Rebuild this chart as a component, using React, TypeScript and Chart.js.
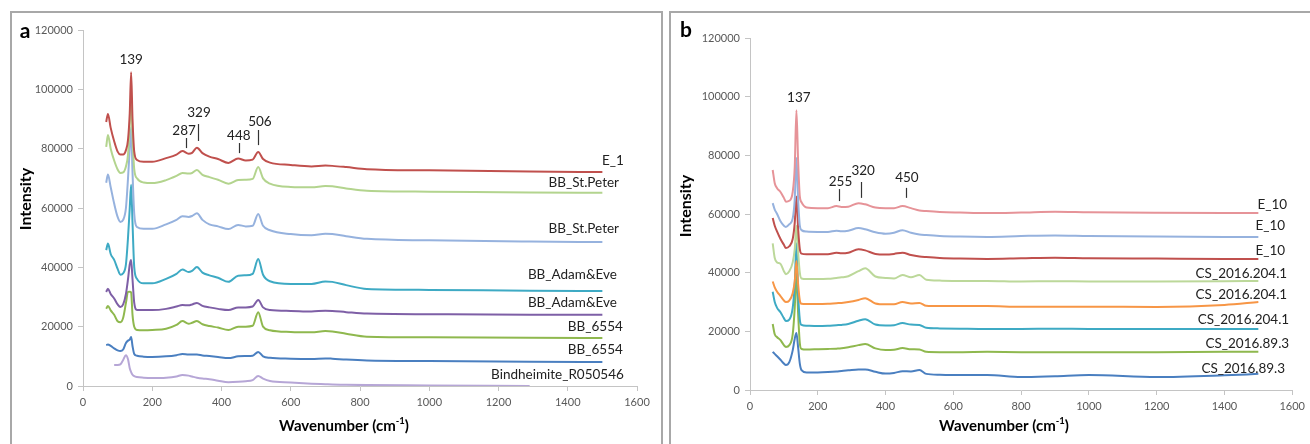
import React, { useEffect, useRef } from 'react';
import { Chart, registerables } from 'chart.js';

Chart.register(...registerables);

// ---------- Panel a data ----------
const wavenumbersA = [67, 72, 80, 90, 100, 108, 116, 124, 130, 135, 139, 143, 148, 156, 175, 200, 240, 270, 287, 305, 315, 329, 345, 365, 390, 420, 448, 470, 490, 506, 520, 540, 600, 660, 700, 720, 760, 820, 1000, 1290, 1500];
const e1A = [89000, 91700, 87000, 82500, 79000, 78000, 78000, 79500, 83000, 92000, 105800, 90000, 79000, 76200, 75600, 75600, 76800, 78000, 79200, 78300, 78600, 80300, 78500, 77300, 76500, 75200, 76700, 76000, 76300, 78900, 76500, 75300, 74500, 74000, 74300, 74200, 73800, 73100, 72700, 72300, 72100];
const stPeter1A = [80600, 84600, 80000, 76000, 73000, 71800, 72000, 74000, 78000, 88000, 97400, 84000, 73000, 70000, 68600, 68400, 69400, 70800, 71800, 71600, 71800, 72800, 71200, 70400, 69500, 68200, 69400, 69500, 69800, 73800, 70000, 68200, 67100, 67000, 67400, 67300, 66600, 65800, 65500, 65200, 65100];
const stPeter2A = [68500, 71300, 67000, 61500, 57000, 55300, 56000, 60000, 70000, 80000, 87300, 72000, 58000, 53600, 53000, 53000, 54500, 56000, 57200, 57000, 57300, 58200, 56000, 54500, 53800, 52900, 54300, 53800, 54000, 58000, 54000, 52500, 51200, 50800, 51300, 51200, 50500, 49600, 49100, 48700, 48500];
const adamEve1A = [45800, 48000, 44500, 42500, 39500, 37500, 38000, 41000, 50000, 60000, 67800, 55000, 40000, 36100, 34600, 34600, 36100, 37800, 39300, 38400, 38800, 40100, 38200, 37300, 36500, 35100, 37200, 37300, 37800, 42800, 37500, 35300, 34400, 34400, 35200, 35100, 34000, 32700, 32400, 32100, 32000];
const adamEve2A = [31700, 32800, 31000, 29500, 27500, 26600, 27500, 31000, 36000, 41000, 42500, 36000, 28000, 25600, 25600, 25600, 26000, 26800, 27300, 27200, 27500, 28000, 27000, 26500, 26000, 25600, 26500, 26500, 26800, 29000, 26500, 25600, 25300, 25100, 25400, 25300, 24900, 24400, 24200, 24050, 24000];
const bb6554aA = [26000, 27000, 25500, 24000, 21800, 21500, 23000, 28000, 31700, 31800, 31500, 24000, 20000, 18900, 18800, 18900, 19300, 20600, 21900, 21000, 21300, 21900, 20800, 20200, 19700, 18900, 20000, 20000, 20300, 24900, 20000, 18800, 18200, 18100, 18500, 18400, 17600, 16600, 16400, 16250, 16200];
const bb6554bA = [13800, 14000, 13500, 12700, 12000, 11800, 12300, 14500, 15300, 15600, 16500, 13500, 10800, 10200, 9900, 9800, 10000, 10400, 10800, 10600, 10600, 10600, 10300, 10100, 9800, 9400, 10000, 10100, 10200, 11500, 10000, 9500, 9200, 9100, 9300, 9200, 8900, 8600, 8400, 8200, 8100];
const bindheimiteA = [null, null, null, 7100, 7100, 7300, 8800, 10400, 9000, 6000, 4700, 3800, 3300, 3000, 2800, 2700, 2800, 3200, 3700, 3500, 3200, 2800, 2500, 2300, 1800, 1300, 1400, 1600, 2000, 3400, 2500, 1700, 1200, 800, 600, 500, 400, 300, 200, 0, null];
const seriesNamesA = ['E_1', 'BB_St.Peter', 'BB_St.Peter', 'BB_Adam&Eve', 'BB_Adam&Eve', 'BB_6554', 'BB_6554', 'Bindheimite_R050546'];
const seriesValuesA = [e1A, stPeter1A, stPeter2A, adamEve1A, adamEve2A, bb6554aA, bb6554bA, bindheimiteA];
const peakLabelsA = ['139', '287', '329', '448', '506'];

// ---------- Panel b data ----------
const wavenumbersB = [67, 73, 80, 90, 100, 106, 116, 126, 132, 137, 142, 147, 152, 167, 200, 230, 255, 270, 290, 320, 340, 370, 400, 425, 450, 475, 500, 520, 560, 620, 700, 800, 900, 1000, 1200, 1400, 1500];
const e10aB = [75000, 70500, 68800, 67500, 65500, 64200, 64500, 67500, 76000, 95400, 78000, 66000, 64000, 62200, 62000, 62000, 62700, 62400, 62500, 63700, 63300, 62200, 62000, 62000, 62700, 62000, 61200, 61000, 60700, 60500, 60300, 60500, 60800, 60600, 60400, 60300, 60300];
const e10bB = [63700, 61500, 60000, 57500, 56000, 55600, 56500, 58500, 65000, 79100, 65000, 56000, 54500, 54000, 53900, 53900, 54300, 54100, 54300, 55200, 54800, 53800, 53300, 53600, 54500, 53600, 53000, 52800, 52500, 52300, 52200, 52500, 52700, 52500, 52300, 52200, 52200];
const e10cB = [58600, 56000, 54000, 51500, 49500, 48400, 49000, 51500, 57000, 66000, 55000, 48000, 46500, 46300, 46300, 46300, 46800, 46600, 46800, 48000, 47600, 46400, 46200, 46400, 46800, 46000, 45500, 45300, 45000, 44800, 44700, 44900, 45100, 44900, 44800, 44700, 44700];
const cs204aB = [50000, 45000, 43500, 43000, 40500, 39500, 40500, 43500, 48000, 56000, 47000, 40000, 38000, 37800, 37800, 37900, 38200, 38400, 38800, 40500, 41500, 38700, 38200, 38000, 39200, 38400, 39200, 37600, 37300, 37200, 37200, 37000, 37100, 37000, 37000, 37100, 37200];
const cs204bB = [37000, 35000, 33500, 32000, 30500, 30000, 30500, 33000, 37000, 44000, 36000, 30500, 29400, 29300, 29300, 29400, 29600, 29700, 30000, 30700, 31300, 29500, 29200, 29200, 30000, 29500, 29700, 28700, 28600, 28600, 28600, 28400, 28400, 28400, 28300, 29000, 30000];
const cs204cB = [33500, 30000, 28000, 26500, 24500, 23500, 24000, 28000, 36000, 50000, 33000, 24000, 22200, 21900, 21800, 21900, 22100, 22200, 22500, 23600, 24100, 22300, 22000, 22100, 22800, 22300, 22200, 21200, 21000, 20900, 20800, 20800, 20900, 20800, 20800, 20800, 20800];
const cs893aB = [22500, 19000, 18000, 17000, 15300, 14700, 15300, 19000, 28000, 40000, 26000, 16000, 14000, 13800, 13900, 14000, 14100, 14200, 14600, 15300, 15700, 14200, 13600, 13700, 14300, 13900, 13800, 13000, 12900, 12900, 13000, 12900, 12900, 12900, 12900, 13000, 13000];
const cs893bB = [13000, 12300, 11500, 10300, 9000, 8500, 9500, 13500, 17500, 19400, 14500, 9000, 6800, 6000, 6000, 6100, 6300, 6500, 6700, 7000, 7000, 6200, 5600, 5800, 6400, 6300, 6800, 5500, 5200, 5100, 5100, 4400, 4700, 5100, 4400, 5000, 5500];
const seriesNamesB = ['E_10', 'E_10', 'E_10', 'CS_2016.204.1', 'CS_2016.204.1', 'CS_2016.204.1', 'CS_2016.89.3', 'CS_2016.89.3'];
const seriesValuesB = [e10aB, e10bB, e10cB, cs204aB, cs204bB, cs204cB, cs893aB, cs893bB];
const peakLabelsB = ['137', '255', '320', '450'];

// ---------- Styles / placement (not data) ----------
const colorsA = ['#c0504d', '#b3d48e', '#96b2de', '#3eaac4', '#7e5fa6', '#8fb84e', '#4a7fc0', '#b6a6d6'];
const colorsB = ['#e69398', '#96b2de', '#c0504d', '#bcd89a', '#f79646', '#3eaac4', '#8fb84e', '#4a7fc0'];
// series label anchors (right aligned), data coords
const labelPosA = [[1562, 75840], [1548, 68430], [1548, 52920], [1542, 37420], [1542, 27980], [1559, 19890], [1559, 12130], [1562, 3710]];
const labelPosB = [[1585, 63070], [1579, 55910], [1579, 47390], [1585, 39540], [1585, 32390], [1591, 23860], [1591, 15680], [1579, 7160]];
// peak annotations: [textX, textY, tickX, tickY1, tickY2] (tickX null = no tick)
const peakPosA = [[139, 109900, null, 0, 0], [292, 85950, 297, 83600, 80200], [335, 92000, 332, 88300, 82600], [450, 84300, 450, 81900, 78500], [511, 89000, 505, 86300, 81200]];
const peakPosB = [[144, 99500, null, 0, 0], [267, 70900, 264, 68500, 64400], [334, 74700, 328, 70900, 65500], [463, 72300, 460, 68900, 65500]];

const FONT = 'Lato, "Open Sans", "DejaVu Sans", sans-serif';
const AXIS = '#c4c4c4';
const TICKTXT = '#595959';

const textPlugin = {
  id: 'panelText',
  afterDraw(chart: any, _args: any, opts: any) {
    const { ctx } = chart;
    const xs = chart.scales.x;
    const ys = chart.scales.y;
    ctx.save();
    ctx.fillStyle = '#222';
    ctx.textBaseline = 'middle';
    // series labels
    ctx.font = '13.5px ' + FONT;
    ctx.textAlign = 'right';
    opts.names.forEach((n: string, i: number) => {
      const p = opts.labelPos[i];
      ctx.fillText(n, xs.getPixelForValue(p[0]), ys.getPixelForValue(p[1]));
    });
    // peak labels
    ctx.textAlign = 'center';
    ctx.strokeStyle = '#333';
    ctx.lineWidth = 1.2;
    opts.peaks.forEach((t: string, i: number) => {
      const p = opts.peakPos[i];
      ctx.fillText(t, xs.getPixelForValue(p[0]), ys.getPixelForValue(p[1]));
      if (p[2] !== null) {
        const x = Math.round(xs.getPixelForValue(p[2])) + 0.5;
        ctx.beginPath();
        ctx.moveTo(x, ys.getPixelForValue(p[3]));
        ctx.lineTo(x, ys.getPixelForValue(p[4]));
        ctx.stroke();
      }
    });
    // panel letter
    ctx.fillStyle = '#000';
    ctx.font = 'bold 21px ' + FONT;
    ctx.textAlign = 'center';
    ctx.fillText(opts.letter, opts.letterX, opts.letterY);
    // y title
    ctx.save();
    ctx.translate(opts.yTitleX, opts.yTitleY);
    ctx.rotate(-Math.PI / 2);
    ctx.font = 'bold 16px ' + FONT;
    ctx.fillText('Intensity', 0, 0);
    ctx.restore();
    // x title with superscript
    const main = 'Wavenumber (cm';
    const sup = '-1';
    const end = ')';
    ctx.font = 'bold 15px ' + FONT;
    const w1 = ctx.measureText(main).width;
    const w3 = ctx.measureText(end).width;
    ctx.font = 'bold 9.5px ' + FONT;
    const w2 = ctx.measureText(sup).width;
    const x0 = opts.xTitleX - (w1 + w2 + w3) / 2;
    ctx.textAlign = 'left';
    ctx.font = 'bold 15px ' + FONT;
    ctx.fillText(main, x0, opts.xTitleY);
    ctx.font = 'bold 9.5px ' + FONT;
    ctx.fillText(sup, x0 + w1, opts.xTitleY - 5);
    ctx.font = 'bold 15px ' + FONT;
    ctx.fillText(end, x0 + w1 + w2, opts.xTitleY);
    ctx.restore();
  },
};

type PanelCfg = {
  left: number;
  width: number;
  yWidth: number;
  xHeight: number;
  padTop: number;
  padRight: number;
  xs: number[];
  values: (number | null)[][];
  colors: string[];
  names: string[];
  labelPos: number[][];
  peaks: string[];
  peakPos: (number | null)[][];
  letter: string;
  letterX: number;
  letterY: number;
  yTitleX: number;
  yTitleY: number;
  xTitleX: number;
  xTitleY: number;
};

function Panel({ cfg }: { cfg: PanelCfg }) {
  const ref = useRef<HTMLCanvasElement>(null);
  useEffect(() => {
    if (!ref.current) return;
    const datasets = cfg.values.map((vals, i) => ({
      label: cfg.names[i],
      data: cfg.xs
        .map((x, j) => ({ x, y: vals[j] }))
        .filter((p) => p.y !== null),
      borderColor: cfg.colors[i],
      backgroundColor: cfg.colors[i],
      borderWidth: 2,
      pointRadius: 0,
      fill: false,
      cubicInterpolationMode: 'monotone' as const,
    }));
    const tickFont = { family: FONT, size: 11 };
    const chart = new Chart(ref.current, {
      type: 'line',
      data: { datasets },
      options: {
        animation: false,
        responsive: false,
        devicePixelRatio: 1,
        layout: { padding: { left: 0, top: cfg.padTop, right: cfg.padRight, bottom: 0 } },
        plugins: {
          legend: { display: false },
          tooltip: { enabled: false },
          panelText: {
            names: cfg.names,
            labelPos: cfg.labelPos,
            peaks: cfg.peaks,
            peakPos: cfg.peakPos,
            letter: cfg.letter,
            letterX: cfg.letterX,
            letterY: cfg.letterY,
            yTitleX: cfg.yTitleX,
            yTitleY: cfg.yTitleY,
            xTitleX: cfg.xTitleX,
            xTitleY: cfg.xTitleY,
          },
        } as any,
        scales: {
          x: {
            type: 'linear',
            min: 0,
            max: 1600,
            ticks: { stepSize: 200, color: TICKTXT, font: tickFont, padding: 5, maxRotation: 0, autoSkip: false, callback: (v: any) => String(v) },
            grid: { display: true, drawOnChartArea: false, drawTicks: true, tickLength: 5, color: AXIS },
            border: { display: true, color: AXIS, width: 1 },
            afterFit: (s: any) => { s.height = cfg.xHeight; },
          },
          y: {
            type: 'linear',
            min: 0,
            max: 120000,
            ticks: { stepSize: 20000, color: TICKTXT, font: tickFont, padding: 5, autoSkip: false, callback: (v: any) => String(v) },
            grid: { display: true, drawOnChartArea: false, drawTicks: true, tickLength: 5, color: AXIS },
            border: { display: true, color: AXIS, width: 1 },
            afterFit: (s: any) => { s.width = cfg.yWidth; },
          },
        },
      },
      plugins: [textPlugin],
    });
    return () => chart.destroy();
  }, []);
  return (
    <canvas
      ref={ref}
      width={cfg.width}
      height={444}
      style={{ position: 'absolute', left: cfg.left, top: 0, width: cfg.width, height: 444 }}
    />
  );
}

const panelA: PanelCfg = {
  left: 0, width: 665, yWidth: 83, xHeight: 58, padTop: 30, padRight: 28,
  xs: wavenumbersA, values: seriesValuesA, colors: colorsA, names: seriesNamesA,
  labelPos: labelPosA, peaks: peakLabelsA, peakPos: peakPosA,
  letter: 'a', letterX: 25, letterY: 31, yTitleX: 26, yTitleY: 199, xTitleX: 344, xTitleY: 426,
};

const panelB: PanelCfg = {
  left: 665, width: 645, yWidth: 85, xHeight: 54, padTop: 38, padRight: 14,
  xs: wavenumbersB, values: seriesValuesB, colors: colorsB, names: seriesNamesB,
  labelPos: labelPosB, peaks: peakLabelsB, peakPos: peakPosB,
  letter: 'b', letterX: 21, letterY: 30, yTitleX: 21, yTitleY: 206, xTitleX: 339, xTitleY: 426,
};

export default function App() {
  return (
    <div style={{ position: 'fixed', left: 0, top: 0, width: 1310, height: 444, overflow: 'hidden', background: '#fff' }}>
      <div style={{ position: 'absolute', left: 10, top: 11, width: 653, height: 480, border: '2px solid #a8a8a8', boxSizing: 'border-box' }} />
      <div style={{ position: 'absolute', left: 669, top: 11, width: 700, height: 480, border: '2px solid #a8a8a8', boxSizing: 'border-box' }} />
      <Panel cfg={panelA} />
      <Panel cfg={panelB} />
    </div>
  );
}
